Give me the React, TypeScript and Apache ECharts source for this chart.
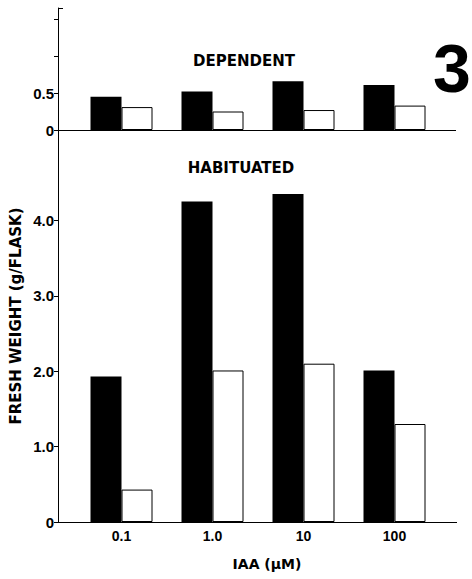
import React, { useEffect, useRef } from "react";
import * as echarts from "echarts";

const categories = ["0.1", "1.0", "10", "100"];
const dependentTreated = [0.45, 0.52, 0.66, 0.61];
const dependentControl = [0.31, 0.25, 0.27, 0.33];
const habituatedTreated = [1.93, 4.25, 4.35, 2.01];
const habituatedControl = [0.43, 2.01, 2.1, 1.3];
const topTicks = [0, 0.5, 1.0, 1.5];
const topLabels = [0, 0.5];
const bottomTicks = [0, 1, 2, 3, 4];

const FONT = "'Liberation Sans', Arial, sans-serif";
const WIDE = "'DejaVu Sans', 'Liberation Sans', sans-serif";
const GL = 76;
const GR = 32;
const W = 472;
const TOP0 = 8;
const BASE0 = 130;
const BASE1 = 522;

export default function App() {
  const ref = useRef<HTMLDivElement>(null);
  useEffect(() => {
    if (!ref.current) return;
    const chart = echarts.init(ref.current, null, { renderer: "svg" });
    const fmt = (v: number) => (v === 0 ? "0" : v.toFixed(1));
    const labelStyle = {
      color: "#000",
      fontFamily: FONT,
      fontWeight: "bold" as const,
      fontSize: 15,
    };
    const barBlack = { color: "#000" };
    const barWhite = { color: "#fff", borderColor: "#000", borderWidth: 1 };
    chart.setOption({
      animation: false,
      backgroundColor: "#fff",
      grid: [
        { left: GL, right: GR, top: TOP0, height: BASE0 - TOP0 },
        { left: GL, right: GR, top: BASE0, height: BASE1 - BASE0 },
      ],
      xAxis: [
        {
          type: "category",
          gridIndex: 0,
          data: categories,
          axisLine: { lineStyle: { color: "#000", width: 1 } },
          axisTick: { show: false },
          axisLabel: { show: false },
        },
        {
          type: "category",
          gridIndex: 1,
          data: categories,
          axisLine: { lineStyle: { color: "#000", width: 1 } },
          axisTick: { show: false },
          axisLabel: { ...labelStyle, fontSize: 14, margin: 7 },
          name: "IAA (μM)",
          nameLocation: "middle",
          nameGap: 35,
          nameTextStyle: { ...labelStyle, fontFamily: WIDE, fontSize: 14, padding: [0, 0, 0, 18] },
        },
      ],
      yAxis: [
        {
          type: "value",
          gridIndex: 0,
          min: 0,
          max: 1.65,
          interval: 0.5,
          offset: GL - 58,
          axisLine: { show: true, lineStyle: { color: "#000", width: 1 } },
          axisTick: { show: true, length: 4, customValues: topTicks, lineStyle: { color: "#000" } },
          axisLabel: { ...labelStyle, customValues: topLabels, formatter: fmt, margin: 4 },
          splitLine: { show: false },
        },
        {
          type: "value",
          gridIndex: 1,
          min: 0,
          max: 5.2,
          interval: 1,
          offset: GL - 58,
          axisLine: { show: true, lineStyle: { color: "#000", width: 1 } },
          axisTick: { show: true, length: 4, customValues: bottomTicks, lineStyle: { color: "#000" } },
          axisLabel: { ...labelStyle, customValues: bottomTicks, formatter: fmt, margin: 4 },
          splitLine: { show: false },
        },
      ],
      series: [
        {
          type: "bar",
          xAxisIndex: 0,
          yAxisIndex: 0,
          data: dependentTreated,
          barWidth: 31,
          barGap: "0%",
          itemStyle: barBlack,
        },
        {
          type: "bar",
          xAxisIndex: 0,
          yAxisIndex: 0,
          data: dependentControl,
          barWidth: 31,
          barGap: "0%",
          itemStyle: barWhite,
        },
        {
          type: "bar",
          xAxisIndex: 1,
          yAxisIndex: 1,
          data: habituatedTreated,
          barWidth: 31,
          barGap: "0%",
          itemStyle: barBlack,
        },
        {
          type: "bar",
          xAxisIndex: 1,
          yAxisIndex: 1,
          data: habituatedControl,
          barWidth: 31,
          barGap: "0%",
          itemStyle: barWhite,
        },
      ],
      graphic: [
        {
          type: "line",
          shape: { x1: 58, y1: BASE0 + 0.5, x2: GL, y2: BASE0 + 0.5 },
          style: { stroke: "#000", lineWidth: 1 },
        },
        {
          type: "line",
          shape: { x1: W - GR, y1: BASE0 + 0.5, x2: 456, y2: BASE0 + 0.5 },
          style: { stroke: "#000", lineWidth: 1 },
        },
        {
          type: "line",
          shape: { x1: 58, y1: BASE1 + 0.5, x2: GL, y2: BASE1 + 0.5 },
          style: { stroke: "#000", lineWidth: 1 },
        },
        {
          type: "line",
          shape: { x1: W - GR, y1: BASE1 + 0.5, x2: 457, y2: BASE1 + 0.5 },
          style: { stroke: "#000", lineWidth: 1 },
        },
        {
          type: "line",
          shape: { x1: 58, y1: TOP0 + 0.5, x2: 63, y2: TOP0 + 0.5 },
          style: { stroke: "#000", lineWidth: 1 },
        },
        {
          type: "text",
          x: 244,
          y: 61,
          style: {
            text: "DEPENDENT",
            fill: "#000",
            font: `bold 15px ${WIDE}`,
            align: "center",
            verticalAlign: "middle",
          },
        },
        {
          type: "text",
          x: 241,
          y: 168,
          style: {
            text: "HABITUATED",
            fill: "#000",
            font: `bold 15px ${WIDE}`,
            align: "center",
            verticalAlign: "middle",
          },
        },
        {
          type: "text",
          x: 452,
          y: 68,
          style: {
            text: "3",
            fill: "#000",
            font: `bold 68px ${FONT}`,
            align: "center",
            verticalAlign: "middle",
          },
        },
        {
          type: "text",
          x: 16,
          y: 316,
          rotation: Math.PI / 2,
          style: {
            text: "FRESH WEIGHT (g/FLASK)",
            fill: "#000",
            font: `bold 15px ${WIDE}`,
            align: "center",
            verticalAlign: "middle",
          },
        },
      ],
    });
    return () => chart.dispose();
  }, []);
  return (
    <div
      ref={ref}
      style={{ position: "fixed", left: 0, top: 0, width: 472, height: 579, background: "#fff" }}
    />
  );
}
